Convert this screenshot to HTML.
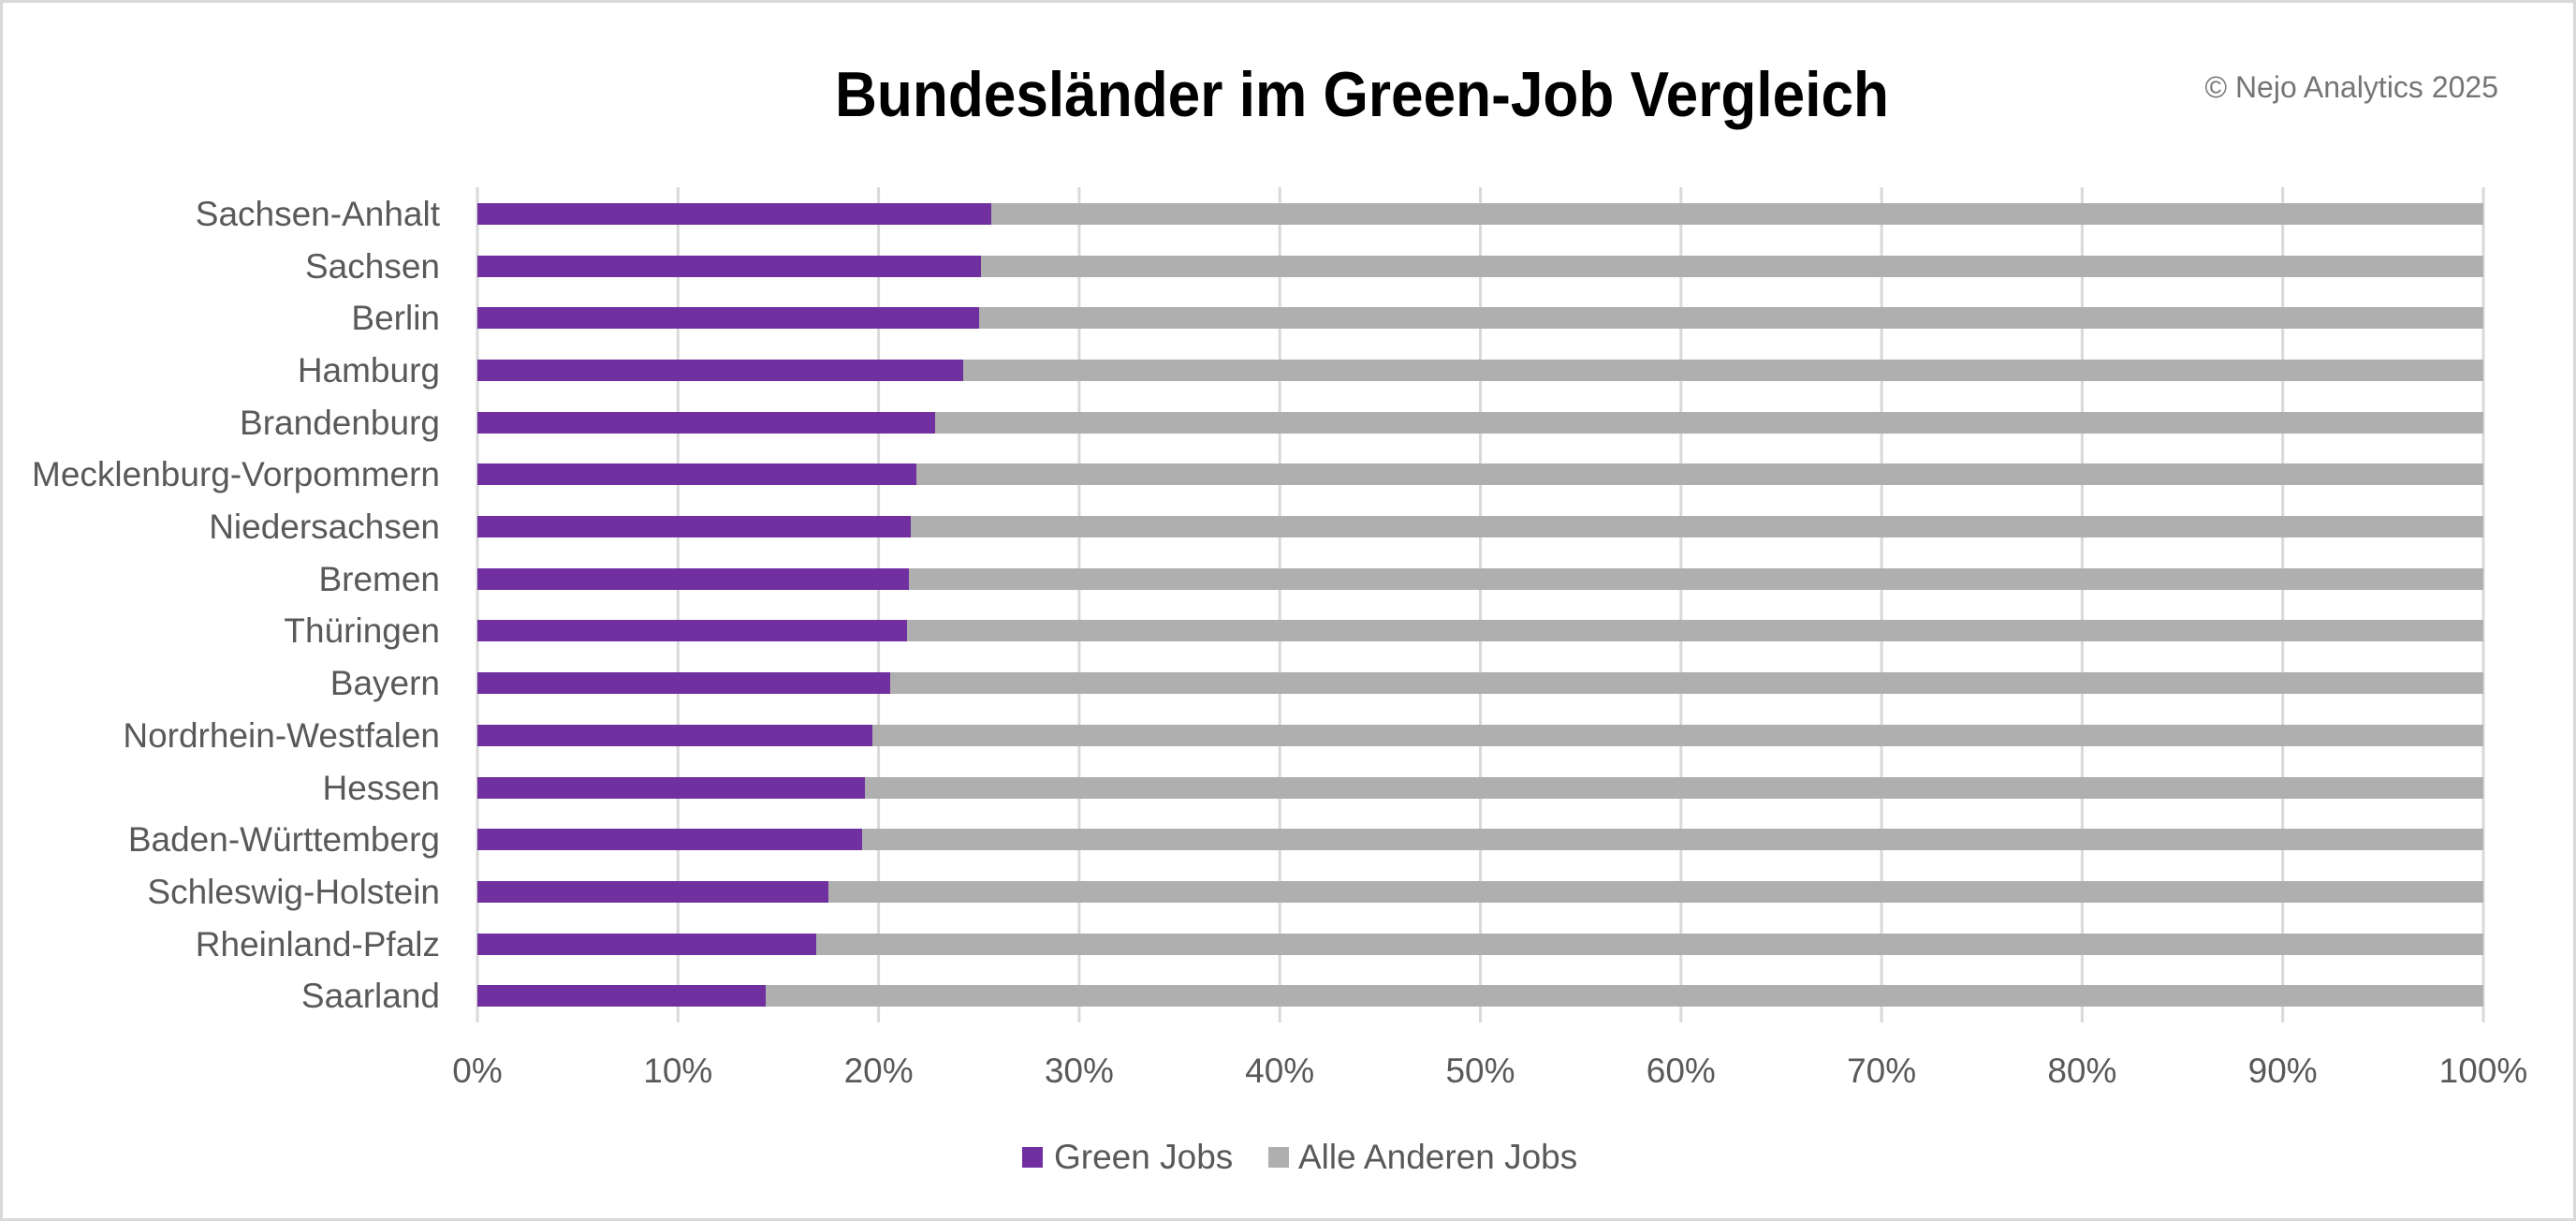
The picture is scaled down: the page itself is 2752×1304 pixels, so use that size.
<!DOCTYPE html>
<html><head><meta charset="utf-8"><style>
html,body{margin:0;padding:0;background:#fff}
svg{display:block}
.n{font-family:"Liberation Sans Narrow","Liberation Sans",sans-serif}
</style></head><body>
<svg width="2752" height="1304" viewBox="0 0 2752 1304" xmlns="http://www.w3.org/2000/svg">
<rect x="1.5" y="1.5" width="2749" height="1301" fill="#fff" stroke="#d9d9d9" stroke-width="3"/>
<text x="892" y="124" textLength="1126" lengthAdjust="spacingAndGlyphs" class="n" font-weight="bold" font-size="68" fill="#000">Bundesländer im Green-Job Vergleich</text>
<text x="2669" y="104" text-anchor="end" font-family="Liberation Sans, sans-serif" font-size="32" fill="#757575">© Nejo Analytics 2025</text>
<g stroke="#d9d9d9" stroke-width="3">
<line x1="510" y1="200" x2="510" y2="1092"/><line x1="724.3" y1="200" x2="724.3" y2="1092"/><line x1="938.6" y1="200" x2="938.6" y2="1092"/><line x1="1152.9" y1="200" x2="1152.9" y2="1092"/><line x1="1367.2" y1="200" x2="1367.2" y2="1092"/><line x1="1581.5" y1="200" x2="1581.5" y2="1092"/><line x1="1795.8" y1="200" x2="1795.8" y2="1092"/><line x1="2010.1" y1="200" x2="2010.1" y2="1092"/><line x1="2224.4" y1="200" x2="2224.4" y2="1092"/><line x1="2438.7" y1="200" x2="2438.7" y2="1092"/><line x1="2653" y1="200" x2="2653" y2="1092"/>
</g>
<g class="n" font-size="37" fill="#595959" text-anchor="middle">
<text x="510" y="1156">0%</text><text x="724.3" y="1156">10%</text><text x="938.6" y="1156">20%</text><text x="1152.9" y="1156">30%</text><text x="1367.2" y="1156">40%</text><text x="1581.5" y="1156">50%</text><text x="1795.8" y="1156">60%</text><text x="2010.1" y="1156">70%</text><text x="2224.4" y="1156">80%</text><text x="2438.7" y="1156">90%</text><text x="2653" y="1156">100%</text>
</g>
<rect x="1092" y="1225" width="22" height="22" fill="#7030a0"/>
<text x="1126" y="1248" class="n" font-size="37" fill="#595959">Green Jobs</text>
<rect x="1355" y="1225" width="22" height="22" fill="#afafaf"/>
<text x="1387" y="1248" class="n" font-size="37" fill="#595959">Alle Anderen Jobs</text>
<g>
<rect x="510" y="217" width="549" height="23" fill="#7030a0"/><rect x="1059" y="217" width="1594" height="23" fill="#afafaf"/><text x="470" y="241" class="n" font-size="37" fill="#595959" text-anchor="end">Sachsen-Anhalt</text>
<rect x="510" y="273" width="538" height="23" fill="#7030a0"/><rect x="1048" y="273" width="1605" height="23" fill="#afafaf"/><text x="470" y="297" class="n" font-size="37" fill="#595959" text-anchor="end">Sachsen</text>
<rect x="510" y="328" width="536" height="23" fill="#7030a0"/><rect x="1046" y="328" width="1607" height="23" fill="#afafaf"/><text x="470" y="352" class="n" font-size="37" fill="#595959" text-anchor="end">Berlin</text>
<rect x="510" y="384" width="519" height="23" fill="#7030a0"/><rect x="1029" y="384" width="1624" height="23" fill="#afafaf"/><text x="470" y="408" class="n" font-size="37" fill="#595959" text-anchor="end">Hamburg</text>
<rect x="510" y="440" width="489" height="23" fill="#7030a0"/><rect x="999" y="440" width="1654" height="23" fill="#afafaf"/><text x="470" y="464" class="n" font-size="37" fill="#595959" text-anchor="end">Brandenburg</text>
<rect x="510" y="495" width="469" height="23" fill="#7030a0"/><rect x="979" y="495" width="1674" height="23" fill="#afafaf"/><text x="470" y="519" class="n" font-size="37" fill="#595959" text-anchor="end">Mecklenburg-Vorpommern</text>
<rect x="510" y="551" width="463" height="23" fill="#7030a0"/><rect x="973" y="551" width="1680" height="23" fill="#afafaf"/><text x="470" y="575" class="n" font-size="37" fill="#595959" text-anchor="end">Niedersachsen</text>
<rect x="510" y="607" width="461" height="23" fill="#7030a0"/><rect x="971" y="607" width="1682" height="23" fill="#afafaf"/><text x="470" y="631" class="n" font-size="37" fill="#595959" text-anchor="end">Bremen</text>
<rect x="510" y="662" width="459" height="23" fill="#7030a0"/><rect x="969" y="662" width="1684" height="23" fill="#afafaf"/><text x="470" y="686" class="n" font-size="37" fill="#595959" text-anchor="end">Thüringen</text>
<rect x="510" y="718" width="441" height="23" fill="#7030a0"/><rect x="951" y="718" width="1702" height="23" fill="#afafaf"/><text x="470" y="742" class="n" font-size="37" fill="#595959" text-anchor="end">Bayern</text>
<rect x="510" y="774" width="422" height="23" fill="#7030a0"/><rect x="932" y="774" width="1721" height="23" fill="#afafaf"/><text x="470" y="798" class="n" font-size="37" fill="#595959" text-anchor="end">Nordrhein-Westfalen</text>
<rect x="510" y="830" width="414" height="23" fill="#7030a0"/><rect x="924" y="830" width="1729" height="23" fill="#afafaf"/><text x="470" y="854" class="n" font-size="37" fill="#595959" text-anchor="end">Hessen</text>
<rect x="510" y="885" width="411" height="23" fill="#7030a0"/><rect x="921" y="885" width="1732" height="23" fill="#afafaf"/><text x="470" y="909" class="n" font-size="37" fill="#595959" text-anchor="end">Baden-Württemberg</text>
<rect x="510" y="941" width="375" height="23" fill="#7030a0"/><rect x="885" y="941" width="1768" height="23" fill="#afafaf"/><text x="470" y="965" class="n" font-size="37" fill="#595959" text-anchor="end">Schleswig-Holstein</text>
<rect x="510" y="997" width="362" height="23" fill="#7030a0"/><rect x="872" y="997" width="1781" height="23" fill="#afafaf"/><text x="470" y="1021" class="n" font-size="37" fill="#595959" text-anchor="end">Rheinland-Pfalz</text>
<rect x="510" y="1052" width="308" height="23" fill="#7030a0"/><rect x="818" y="1052" width="1835" height="23" fill="#afafaf"/><text x="470" y="1076" class="n" font-size="37" fill="#595959" text-anchor="end">Saarland</text>
</g>
</svg>
</body></html>
